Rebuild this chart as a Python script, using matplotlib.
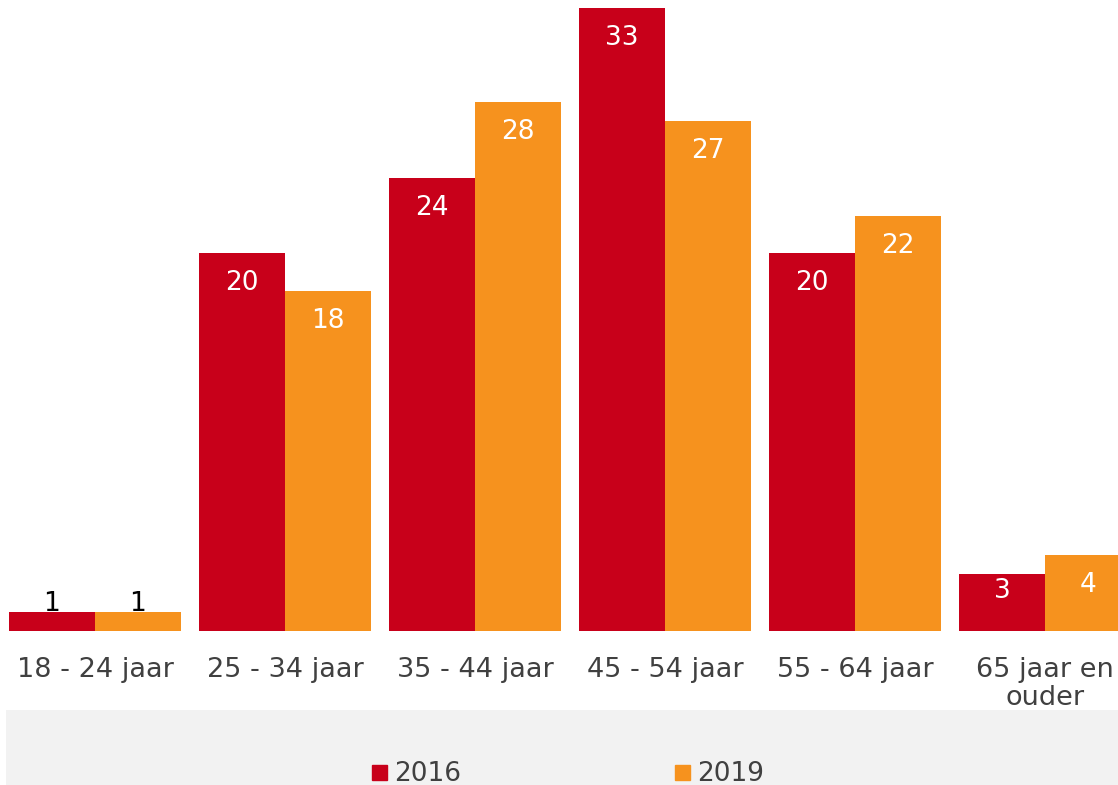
import numpy as np
import matplotlib
matplotlib.use('agg')
import matplotlib.pyplot as plt
from matplotlib.lines import Line2D
from matplotlib.patches import Rectangle

categories = ['18 - 24 jaar', '25 - 34 jaar', '35 - 44 jaar', '45 - 54 jaar',
              '55 - 64 jaar', '65 jaar en\nouder']
v2016 = [1, 20, 24, 33, 20, 3]
v2019 = [1, 18, 28, 27, 22, 4]
series_names = ['2016', '2019']

col16 = '#C8001A'
col19 = '#F6921E'
txtcol = '#404040'
dpi = 100

fig = plt.figure(figsize=[11.18, 7.85], dpi=dpi)

# grey legend band
fig.patches.append(Rectangle((6/1118, 0), 1-6/1118, 75/785, transform=fig.transFigure,
                             facecolor='#F2F2F2', edgecolor='none', zorder=0))

ax = fig.add_axes([0, 154/785, 1, 631/785])
x = np.arange(len(categories))
w = 86/190
b1 = ax.bar(x - w/2, v2016, w, color=col16, edgecolor='none')
b2 = ax.bar(x + w/2, v2019, w, color=col19, edgecolor='none')
ax.set_xlim(-95/190, (1118-95)/190)
ymax = 631/(623/33.)
ax.set_ylim(0, ymax)

pxunit = 631/ymax
for bars, vals in [(b1, v2016), (b2, v2019)]:
    for r, v in zip(bars, vals):
        cx = r.get_x() + r.get_width()/2
        hpx = v*pxunit
        if hpx < 30:
            ax.annotate(str(v), xy=(cx, v), xytext=(0, 1), textcoords='offset points',
                        ha='center', va='baseline', fontsize=19, color='black')
        else:
            off = min(30, hpx - 40)
            ax.annotate(str(v), xy=(cx, v), xytext=(0, -off*72/dpi), textcoords='offset points',
                        ha='center', va='center', fontsize=19, color='white')

ax.set_xticks(x)
ax.set_xticklabels(categories, fontsize=19.5, color=txtcol, linespacing=1.1)
ax.tick_params(axis='x', length=0, pad=19)
ax.set_yticks([])
for s in ax.spines.values():
    s.set_visible(False)

handles = [Line2D([], [], marker='s', linestyle='none', markersize=10.8, color=col16),
           Line2D([], [], marker='s', linestyle='none', markersize=10.8, color=col19)]
leg = fig.legend(handles, series_names, loc='center left', bbox_to_anchor=(370/1118, 11/785),
                 ncol=2, frameon=False, fontsize=19, handlelength=0.7, handletextpad=0.2,
                 columnspacing=8.05, borderpad=0, borderaxespad=0, labelcolor=txtcol)

fig.savefig('out.png', dpi=dpi)
